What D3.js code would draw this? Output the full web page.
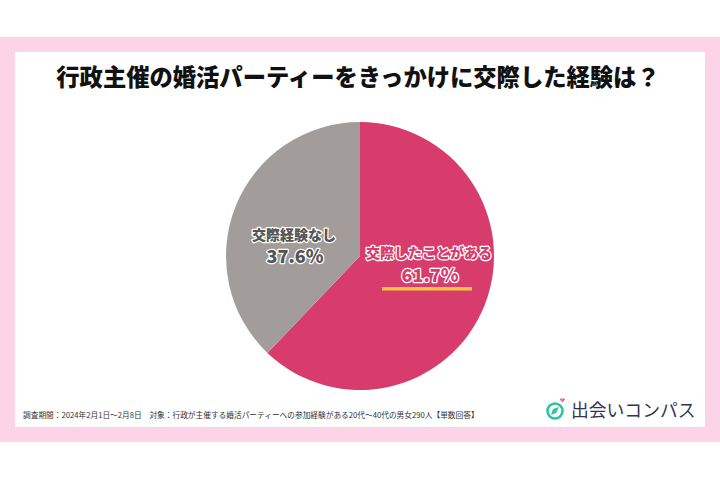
<!DOCTYPE html>
<html><head><meta charset="utf-8">
<script src="https://cdn.jsdelivr.net/npm/d3@7"></script>
<style>body{margin:0;background:#fff}svg{display:block}</style>
</head><body>
<svg id="c" width="720" height="480"></svg>
<script>
const title = "行政主催の婚活パーティーをきっかけに交際した経験は？";
const categories = ["交際したことがある", "交際経験なし"];
const values = [61.7, 37.6];
const colors = ["#d83c6c", "#a29d9b"];
const labelFill = ["#d83c6c", "#555555"];
const note = "調査期間：2024年2月1日～2月8日　対象：行政が主催する婚活パーティーへの参加経験がある20代～40代の男女290人【単数回答】";
const brand = "出会いコンパス";

const svg = d3.select("#c");
const font = "'Noto Sans CJK JP', 'Noto Sans', sans-serif";
svg.append("rect").attr("x",0).attr("y",0).attr("width",720).attr("height",480).attr("fill","#fff");
svg.append("rect").attr("x",0).attr("y",37).attr("width",720).attr("height",405).attr("fill","#fdd3e7");
svg.append("rect").attr("x",15).attr("y",52).attr("width",690).attr("height",375).attr("fill","#fff");

svg.append("text").attr("x",358).attr("y",86).attr("text-anchor","middle")
  .attr("font-family",font).attr("font-weight",900).attr("font-size",23.3).attr("fill","#111")
  .text(title);

const cx = 360, cy = 256, r = 134;
const data = categories.map((c,i)=>({c, v:values[i], i}));
const pie = d3.pie().sort(null).value(d=>d.v);
const arc = d3.arc().innerRadius(0).outerRadius(r);
const g = svg.append("g").attr("transform",`translate(${cx},${cy})`);
const arcs = pie(data);
g.selectAll("path").data(arcs).enter().append("path")
  .attr("d",arc).attr("fill",d=>colors[d.data.i]);

arcs.forEach((a,k)=>{
  const lx = k===0 ? 69 : -66;
  const ly = k===0 ? 2 : -16;
  const off = k===0 ? 24 : 23;
  g.append("text").attr("x",lx).attr("y",ly).attr("text-anchor","middle")
    .attr("font-family",font).attr("font-weight",900).attr("font-size",14)
    .attr("fill",labelFill[k]).attr("stroke","#fff").attr("stroke-width",2.5)
    .attr("paint-order","stroke").attr("stroke-linejoin","round").text(a.data.c);
  g.append("text").attr("x",lx+1).attr("y",ly+off).attr("text-anchor","middle")
    .attr("font-family",font).attr("font-weight",900).attr("font-size",18)
    .attr("fill",labelFill[k]).attr("stroke","#fff").attr("stroke-width",2.5)
    .attr("paint-order","stroke").attr("stroke-linejoin","round").text(a.data.v.toFixed(1)+"%");
  if(k===0){
    g.append("rect").attr("x",lx-47).attr("y",ly+29).attr("width",90).attr("height",3.5).attr("fill","#f6c343");
  }
});

svg.append("text").attr("x",23).attr("y",418).attr("font-family",font).attr("font-size",7.7)
  .attr("fill","#333").text(note);

// logo
const lg = svg.append("g").attr("transform","translate(555,411)");
lg.append("circle").attr("r",7.5).attr("fill","none").attr("stroke","#2ec4a0").attr("stroke-width",2.6);
lg.append("path").attr("d","M4,-4 L-1,1 L-4,4 L1,-1 Z M4,-4 L1,2 L-4,4 L-2,-2 Z").attr("fill","#2ec4a0");
lg.append("path").attr("d","M7.5,-12 c1.2,-1.6 3.4,-0.6 2.4,1.1 l-2.4,2.4 l-2.4,-2.4 c-1,-1.7 1.2,-2.7 2.4,-1.1z").attr("fill","#f06c9b");
svg.append("text").attr("x",571).attr("y",417).attr("font-family",font).attr("font-weight",400).attr("font-size",17.8)
  .attr("fill","#333355").text(brand);
</script>
</body></html>
